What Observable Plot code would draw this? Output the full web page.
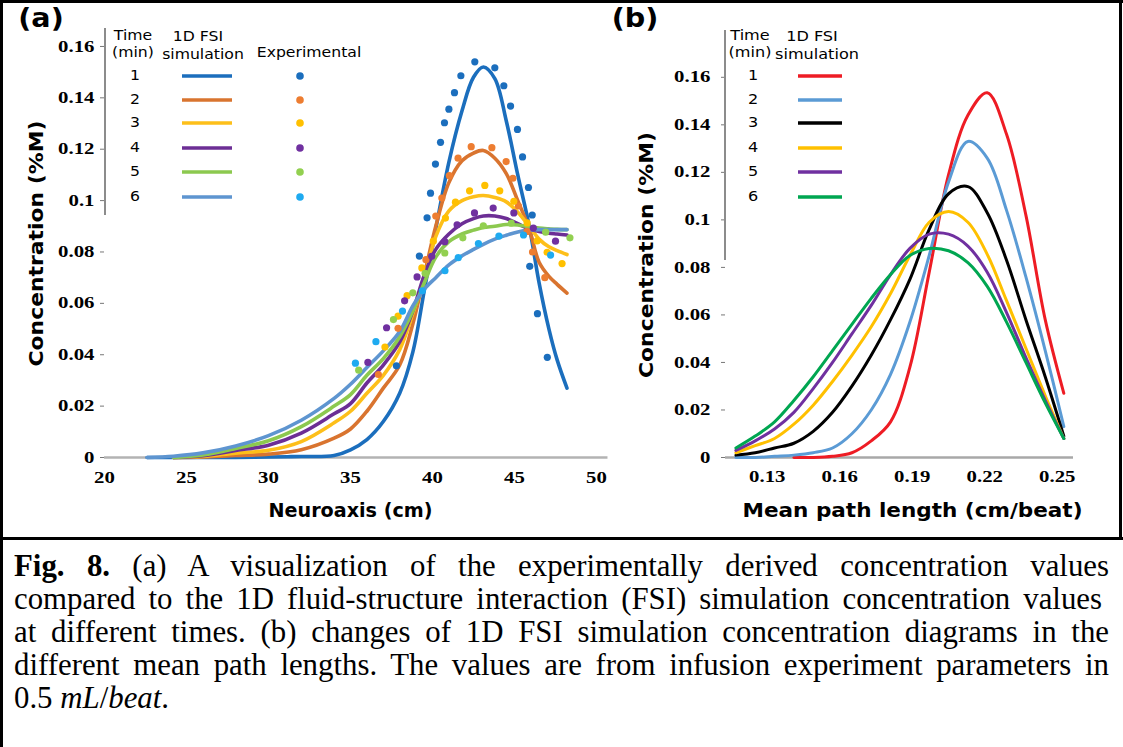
<!DOCTYPE html>
<html><head><meta charset="utf-8">
<script src="https://cdn.jsdelivr.net/npm/d3@7"></script>
<script src="https://cdn.jsdelivr.net/npm/@observablehq/plot@0.6"></script>
<style>
body{margin:0;background:#fff;}
#fig{position:relative;width:1123px;height:747px;overflow:hidden;background:#fff;}
#pa,#pb{position:absolute;top:0;}
#pa{left:0;} #pb{left:600px;}
.border{position:absolute;background:#000;}
#caption{position:absolute;left:14px;top:549px;width:1095px;font-family:"Liberation Serif","Times New Roman",serif;font-size:31px;line-height:33px;color:#000;transform-origin:0 0;}
#caption div{text-align:justify;text-align-last:justify;white-space:nowrap;}
#caption div.last{text-align-last:left;}
svg text{fill:#000;}
</style></head><body><div id="fig">
<div id="pa"></div><div id="pb"></div>
<div class="border" style="left:0;top:0;width:1123px;height:3px"></div>
<div class="border" style="left:0;top:0;width:3px;height:747px"></div>
<div class="border" style="left:1119px;top:0;width:3px;height:540px"></div>
<div class="border" style="left:0;top:537px;width:1123px;height:3px"></div>
<div id="caption">
<div><b>Fig. 8.</b> (a) A visualization of the experimentally derived concentration values</div>
<div>compared to the 1D fluid-structure interaction (FSI) simulation concentration values</div>
<div>at different times. (b) changes of 1D FSI simulation concentration diagrams in the</div>
<div>different mean path lengths. The values are from infusion experiment parameters in</div>
<div class="last">0.5 <i>mL</i>/<i>beat</i>.</div>
</div>
</div>
<script>
// ---------- shared ----------
const times = [1, 2, 3, 4, 5, 6];

// ---------- panel (a): neuroaxis (cm) ----------
const neuroaxis = [22.6, 24.2, 26, 28, 30, 32, 34, 35, 36, 37, 38, 38.8, 39.5, 40.2, 41, 41.8, 42.5, 43.1, 43.8, 44.5, 45.2, 45.9, 46.5, 47.1, 47.6, 48.2];
const simA1 = [0, 0, 0, 0, 0.0002, 0.0004, 0.0008, 0.003, 0.007, 0.014, 0.025, 0.041, 0.065, 0.089, 0.115, 0.135, 0.148, 0.152, 0.1475, 0.131, 0.110, 0.090, 0.068, 0.050, 0.038, 0.027];
const simA2 = [null, 0, 0.0002, 0.0008, 0.0013, 0.003, 0.0075, 0.0111, 0.018, 0.027, 0.036, 0.052, 0.071, 0.090, 0.107, 0.1155, 0.1185, 0.1195, 0.1165, 0.1105, 0.100, 0.089, 0.076, 0.0705, 0.0674, 0.064];
const simA3 = [null, 0, 0.0004, 0.0017, 0.0028, 0.0062, 0.0135, 0.018, 0.025, 0.032, 0.042, 0.056, 0.070, 0.086, 0.096, 0.100, 0.1015, 0.102, 0.1012, 0.0995, 0.0955, 0.090, 0.085, 0.082, 0.0805, 0.079];
const simA4 = [null, 0, 0.0007, 0.0027, 0.0048, 0.0095, 0.017, 0.021, 0.029, 0.036, 0.045, 0.057, 0.071, 0.081, 0.087, 0.091, 0.093, 0.094, 0.094, 0.093, 0.091, 0.089, 0.088, 0.0873, 0.087, 0.0866];
const simA5 = [null, 0, 0.001, 0.0035, 0.0065, 0.012, 0.020, 0.0245, 0.032, 0.0385, 0.047, 0.057, 0.068, 0.078, 0.084, 0.087, 0.0885, 0.0895, 0.090, 0.0907, 0.0905, 0.0898, 0.0893, 0.089, 0.0888, 0.0887];
const simA6 = [0, 0.0005, 0.0018, 0.0045, 0.0085, 0.0145, 0.023, 0.0285, 0.035, 0.0415, 0.049, 0.059, 0.0655, 0.070, 0.075, 0.0785, 0.081, 0.083, 0.085, 0.0865, 0.0878, 0.0885, 0.0887, 0.0887, 0.0887, 0.0887];

// experimental points [neuroaxis cm, concentration %M]
const exp1 = [[37.8,0.0357],[39.2,0.0784],[39.67,0.0933],[39.88,0.1029],[40.18,0.1142],[40.49,0.1227],[40.73,0.1303],[41.0,0.1356],[41.34,0.142],[41.73,0.1486],[42.58,0.154],[43.8,0.1517],[44.35,0.1447],[44.76,0.1368],[45.18,0.1277],[45.49,0.117],[45.85,0.1051],[46.08,0.0944],[45.93,0.0744],[46.4,0.056],[47.0,0.039]];
const exp2 = [[36.7,0.0323],[37.9,0.0503],[39.6,0.077],[40.2,0.094],[40.57,0.101],[41.03,0.1097],[41.56,0.1165],[42.36,0.121],[43.62,0.1206],[44.49,0.1152],[44.9,0.1087],[45.24,0.0979],[45.77,0.088],[46.1,0.080],[46.85,0.070]];
const exp3 = [[37.1,0.043],[37.9,0.055],[38.45,0.063],[39.35,0.0738],[40.05,0.0842],[40.79,0.0932],[41.4,0.0994],[42.26,0.1038],[43.19,0.1059],[44.1,0.1038],[44.96,0.0997],[45.77,0.0913],[46.38,0.0843],[46.99,0.0799],[47.9,0.0755]];
const exp4 = [[36.06,0.037],[37.2,0.0505],[38.3,0.061],[39.06,0.0703],[39.95,0.0783],[40.75,0.084],[41.5,0.0906],[42.56,0.0952],[43.7,0.0971],[44.96,0.0952],[46.15,0.0893],[47.5,0.0842]];
const exp5 = [[35.5,0.034],[37.62,0.0537],[38.8,0.0641],[39.55,0.0717],[40.75,0.0796],[41.85,0.0855],[43.1,0.0902],[44.8,0.0912],[46.9,0.0877],[48.38,0.0855]];
const exp6 = [[35.3,0.0367],[36.55,0.0451],[38.17,0.057],[39.38,0.0649],[40.76,0.0727],[41.57,0.0778],[42.8,0.0833],[44.05,0.0862],[45.55,0.0866],[47.2,0.0788]];

const lineColorsA = ["#1b6ebd", "#d9742f", "#fdbf1a", "#6c2e95", "#8cc94f", "#5e95d0"];
const dotColorsA  = ["#1b6ebd", "#ed7d31", "#ffc000", "#7030a0", "#92d050", "#1eaaf0"];
const xTicksA = [20, 25, 30, 35, 40, 45, 50];
const yTicks = [0, 0.02, 0.04, 0.06, 0.08, 0.1, 0.12, 0.14, 0.16];

// ---------- panel (b): mean path length (cm/beat) ----------
const pathLength = [0.117, 0.125, 0.133, 0.141, 0.149, 0.157, 0.165, 0.173, 0.181, 0.189, 0.197, 0.205, 0.213, 0.221, 0.229, 0.237, 0.245, 0.2527];
const simB1 = [null, null, null, 0, 0, 0.0005, 0.002, 0.007, 0.015, 0.038, 0.078, 0.119, 0.144, 0.1535, 0.136, 0.102, 0.058, 0.027];
const simB2 = [0, 0, 0.0005, 0.001, 0.002, 0.004, 0.010, 0.020, 0.035, 0.057, 0.085, 0.116, 0.133, 0.126, 0.104, 0.076, 0.045, 0.013];
const simB3 = [0.001, 0.002, 0.004, 0.006, 0.011, 0.019, 0.030, 0.043, 0.058, 0.075, 0.096, 0.111, 0.114, 0.103, 0.083, 0.058, 0.034, 0.009];
const simB4 = [0.002, 0.005, 0.008, 0.014, 0.022, 0.032, 0.043, 0.055, 0.069, 0.085, 0.099, 0.1035, 0.099, 0.0855, 0.066, 0.046, 0.026, 0.008];
const simB5 = [0.003, 0.007, 0.012, 0.019, 0.029, 0.040, 0.052, 0.064, 0.077, 0.088, 0.094, 0.094, 0.089, 0.078, 0.061, 0.042, 0.024, 0.008];
const simB6 = [0.004, 0.009, 0.015, 0.024, 0.034, 0.045, 0.056, 0.067, 0.077, 0.085, 0.088, 0.087, 0.082, 0.072, 0.057, 0.040, 0.023, 0.008];
const lineColorsB = ["#ee1c24", "#5b9bd5", "#000000", "#ffc000", "#7030a0", "#00a651"];
const xTicksB = [0.13, 0.16, 0.19, 0.22, 0.25];

// ---------- helpers ----------
const simA = [simA1, simA2, simA3, simA4, simA5, simA6];
const expA = [exp1, exp2, exp3, exp4, exp5, exp6];
const simB = [simB1, simB2, simB3, simB4, simB5, simB6];
const toRows = (xs, ys) => xs.map((x, j) => ({x, y: ys[j]})).filter(d => d.y != null);
const tickFont = {fontFamily: "Liberation Serif, Times New Roman, serif", fontWeight: "bold", fontSize: 16};
const titleFont = {fontFamily: "DejaVu Sans, Verdana, sans-serif", fontWeight: "bold", fontSize: 19};
const fmt = d => String(+d.toFixed(2));

// horizontal stretch of text glyphs about their anchor (the original lettering is wide)
function stretch(sel, k) {
  sel.each(function () {
    const t = d3.select(this);
    let tr = t.attr("transform") || "";
    const x = t.attr("x");
    if (x != null && isFinite(+x)) { tr += ` translate(${+x},0)`; t.attr("x", null); }
    t.attr("transform", `${tr} scale(${k},1)`);
  });
}
// force a text's drawn length
function fitText(svgEl, content, len) {
  d3.select(svgEl).selectAll("text").filter(function () { return this.textContent === content; })
    .attr("textLength", len).attr("lengthAdjust", "spacingAndGlyphs");
}

// ---------- plot (a) ----------
const plotA = Plot.plot({
  width: 600, height: 530,
  marginLeft: 104, marginRight: 4, marginTop: 29, marginBottom: 73,
  x: {domain: [20, 50]},
  y: {domain: [0, 0.1666]},
  style: {background: "transparent", overflow: "visible"},
  marks: [
    Plot.ruleY([0], {x1: 20, x2: 50.7, stroke: "#b3b3b3", strokeWidth: 2.5}),
    Plot.axisX({ticks: xTicksA, tickSize: 0, tickPadding: 14, label: null, ...tickFont}),
    Plot.axisY({ticks: yTicks, tickFormat: fmt, tickSize: 4, tickPadding: 6, label: null, stroke: "#777", ...tickFont}),
    ...simA.map((ys, i) => Plot.line(toRows(neuroaxis, ys), {x: "x", y: "y", stroke: lineColorsA[i], strokeWidth: 3.6, curve: "catmull-rom"})),
    ...expA.map((pts, i) => Plot.dot(pts, {x: d => d[0], y: d => d[1], r: 3.6, fill: dotColorsA[i], stroke: "none"})),
    Plot.text(["Neuroaxis (cm)"], {frameAnchor: "bottom", textAnchor: "middle", lineAnchor: "middle", dy: 53, ...titleFont}),
    Plot.text(["Concentration (%M)"], {frameAnchor: "left", textAnchor: "middle", lineAnchor: "middle", rotate: -90, dx: -68, dy: 0, ...titleFont})
  ]
});
document.getElementById("pa").append(plotA);

// ---------- plot (b) ----------
const plotB = Plot.plot({
  width: 523, height: 530,
  marginLeft: 125, marginRight: 50, marginTop: 30, marginBottom: 73,
  x: {domain: [0.1127, 0.2567]},
  y: {domain: [0, 0.1797]},
  style: {background: "transparent", overflow: "visible"},
  marks: [
    Plot.ruleY([0], {stroke: "#a8a8a8", strokeWidth: 2.5}),
    Plot.axisX({ticks: xTicksB, tickFormat: fmt, tickSize: 0, tickPadding: 13, label: null, ...tickFont}),
    Plot.axisY({ticks: yTicks, tickFormat: fmt, tickSize: 4, tickPadding: 11, label: null, stroke: "#777", ...tickFont}),
    ...simB.map((ys, i) => Plot.line(toRows(pathLength, ys), {x: "x", y: "y", stroke: lineColorsB[i], strokeWidth: 3, curve: "catmull-rom"})),
    Plot.text(["Mean path length (cm/beat)"], {frameAnchor: "bottom", textAnchor: "middle", lineAnchor: "middle", dx: 13, dy: 53, ...titleFont}),
    Plot.text(["Concentration (%M)"], {frameAnchor: "left", textAnchor: "middle", lineAnchor: "middle", rotate: -90, dx: -79, dy: 11, ...titleFont})
  ]
});
document.getElementById("pb").append(plotB);

// ---------- legends & panel letters ----------
function legend(svgEl, o) {
  const g = d3.select(svgEl).append("g").attr("font-family", "DejaVu Sans, Verdana, sans-serif").attr("font-size", 14);
  const txt = (x, y, s) => g.append("text").attr("class", "lg").attr("x", x).attr("y", y).attr("text-anchor", "middle").attr("dominant-baseline", "middle").text(s);
  g.append("line").attr("x1", o.bar).attr("x2", o.bar).attr("y1", o.barTop).attr("y2", o.barBottom).attr("stroke", "#8c8c8c").attr("stroke-width", 2);
  txt(o.timeX, 36, "Time");
  txt(o.timeX, 53, "(min)");
  txt(o.simX, 37, "1D FSI");
  txt(o.simX + 5, 55, "simulation");
  if (o.expX) txt(o.expX, 53, "Experimental");
  const rows = [76, 100, 123, 148, 172, 197];
  times.forEach((t, i) => {
    txt(o.numX, rows[i], t);
    g.append("line").attr("x1", o.lineX0).attr("x2", o.lineX1).attr("y1", rows[i]).attr("y2", rows[i]).attr("stroke", o.lineColors[i]).attr("stroke-width", 3.4);
    if (o.dotColors) g.append("circle").attr("cx", o.expX - 9).attr("cy", rows[i]).attr("r", 3.8).attr("fill", o.dotColors[i]);
  });
  stretch(g.selectAll("text.lg"), o.k);
  const L = d3.select(svgEl).append("text").attr("x", o.letterX).attr("y", 20).attr("text-anchor", "middle").attr("dominant-baseline", "middle")
    .attr("font-family", "DejaVu Sans, Verdana, sans-serif").attr("font-weight", "bold").attr("font-size", 26).text(o.letter);
  stretch(L, 1.1);
}
legend(plotA, {bar: 105, barTop: 28, barBottom: 215, timeX: 133, simX: 198, expX: 309, numX: 135, lineX0: 182, lineX1: 232,
  lineColors: lineColorsA, dotColors: dotColorsA, letter: "(a)", letterX: 41, k: 1.12});
legend(plotB, {bar: 125, barTop: 30, barBottom: 260, timeX: 150, simX: 212, expX: null, numX: 153, lineX0: 198, lineX1: 242,
  lineColors: lineColorsB, dotColors: null, letter: "(b)", letterX: 35, k: 1.15});

// widen tick lettering; set title lengths as in the original
for (const p of [plotA, plotB]) {
  const s = d3.select(p);
  stretch(s.selectAll('g[aria-label="y-axis tick label"] text'), 1.3);
  stretch(s.selectAll('g[aria-label="x-axis tick label"] text'), 1.3);
  fitText(p, "Concentration (%M)", 246);
}
fitText(plotA, "Neuroaxis (cm)", 164);
fitText(plotB, "Mean path length (cm/beat)", 340);

// ---------- caption fitted to the box (slightly narrow lettering, justified) ----------
const cap = document.getElementById("caption");
const capLines = [...cap.children];
capLines[1].style.display = "inline-block";
const natural = capLines[1].getBoundingClientRect().width;
capLines[1].style.display = "";
const kc = 1040 / natural;
cap.style.transform = `scaleX(${kc})`;
cap.style.width = (1095 / kc) + "px";
capLines[1].style.width = (1088 / kc) + "px";
</script>
</body></html>
